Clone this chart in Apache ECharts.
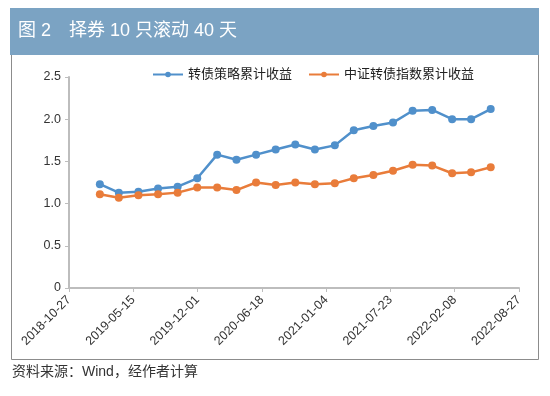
<!DOCTYPE html>
<html>
<head>
<meta charset="utf-8">
<script src="https://cdn.jsdelivr.net/npm/echarts@6/dist/echarts.min.js"></script>
<style>
  html, body { margin: 0; padding: 0; background: #fff; }
  #chart { width: 550px; height: 396px; }
</style>
</head>
<body>
<div id="chart"></div>
<script>
// Data (bi-monthly points)
var dates = [
    '2019-01-31', '2019-03-31', '2019-05-31', '2019-07-31', '2019-09-30', '2019-11-30',
    '2020-01-31', '2020-03-31', '2020-05-31', '2020-07-31', '2020-09-30', '2020-11-30',
    '2021-01-31', '2021-03-31', '2021-05-31', '2021-07-31', '2021-09-30', '2021-11-30',
    '2022-01-31', '2022-03-31', '2022-05-31'
];
var strategyReturn = [1.23, 1.13, 1.14, 1.18, 1.20, 1.30, 1.58, 1.52, 1.58, 1.64, 1.70,
    1.64, 1.69, 1.87, 1.92, 1.96, 2.10, 2.11, 2.00, 2.00, 2.12];
var indexReturn = [1.11, 1.07, 1.10, 1.11, 1.13, 1.19, 1.19, 1.16, 1.25, 1.22, 1.25,
    1.23, 1.24, 1.30, 1.34, 1.39, 1.46, 1.45, 1.36, 1.37, 1.43];
var seriesNames = ['转债策略累计收益', '中证转债指数累计收益'];
var axisStart = '2018-10-27';   // first x tick
var axisDays = 1400;            // last tick 2022-08-27
var tickDays = 200;

var DAY = 86400000;
var t0 = Date.parse(axisStart + 'T00:00:00Z');
function dayOffset(s) { return Math.round((Date.parse(s + 'T00:00:00Z') - t0) / DAY); }
function fmtDay(v) { return new Date(t0 + v * DAY).toISOString().slice(0, 10); }

var font = '"Liberation Sans", "Noto Sans CJK SC", sans-serif';
var dom = document.getElementById('chart');
var chart = echarts.init(dom, null, {renderer: 'canvas'});

var option = {
    animation: false,
    backgroundColor: '#fff',
    textStyle: {fontFamily: font},
    graphic: [
        {type: 'rect', z: 0, shape: {x: 11.5, y: 40.5, width: 527, height: 319},
         style: {fill: '#fff', stroke: '#8c8c8c', lineWidth: 1}},
        {type: 'rect', z: 1, shape: {x: 10, y: 8, width: 529, height: 47},
         style: {fill: '#7ba3c3'}},
        {type: 'text', z: 2, left: 18, top: 22,
         style: {text: '图 2　择券 10 只滚动 40 天', fill: '#fff', fontSize: 18, fontFamily: font}},
        {type: 'text', z: 2, left: 12, top: 365,
         style: {text: '资料来源：Wind，经作者计算', fill: '#333', fontSize: 14, fontFamily: font}}
    ],
    legend: {
        left: 147, top: 63,
        itemWidth: 30, itemHeight: 7, itemGap: 16,
        textStyle: {fontSize: 13, color: '#222', fontFamily: font},
        data: seriesNames
    },
    grid: {left: 69, right: 31, top: 77, bottom: 108, containLabel: false},
    xAxis: {
        type: 'value',
        min: 0, max: axisDays, interval: tickDays,
        axisLine: {lineStyle: {color: '#bdbdbd', width: 2}},
        axisTick: {show: true, length: 4, lineStyle: {color: '#bdbdbd', width: 1}},
        splitLine: {show: false},
        axisLabel: {
            rotate: 45, fontSize: 12.5, color: '#333', margin: 10,
            formatter: function (v) { return fmtDay(v); }
        }
    },
    yAxis: {
        type: 'value',
        min: 0, max: 2.5, interval: 0.5,
        axisLine: {show: true, lineStyle: {color: '#bdbdbd', width: 2}},
        axisTick: {show: true, length: 4, lineStyle: {color: '#bdbdbd', width: 1}},
        splitLine: {show: false},
        axisLabel: {
            fontSize: 12.5, color: '#333', margin: 8,
            formatter: function (v) { return v === 0 ? '0' : v.toFixed(1); }
        }
    },
    series: [
        {
            name: seriesNames[0], type: 'line',
            data: dates.map(function (d, i) { return [dayOffset(d), strategyReturn[i]]; }),
            symbol: 'circle', symbolSize: 8,
            lineStyle: {color: '#5090cb', width: 2.5},
            itemStyle: {color: '#5090cb'}
        },
        {
            name: seriesNames[1], type: 'line',
            data: dates.map(function (d, i) { return [dayOffset(d), indexReturn[i]]; }),
            symbol: 'circle', symbolSize: 8,
            lineStyle: {color: '#e97c3a', width: 2.5},
            itemStyle: {color: '#e97c3a'}
        }
    ]
};

option && chart.setOption(option);
</script>
</body>
</html>
